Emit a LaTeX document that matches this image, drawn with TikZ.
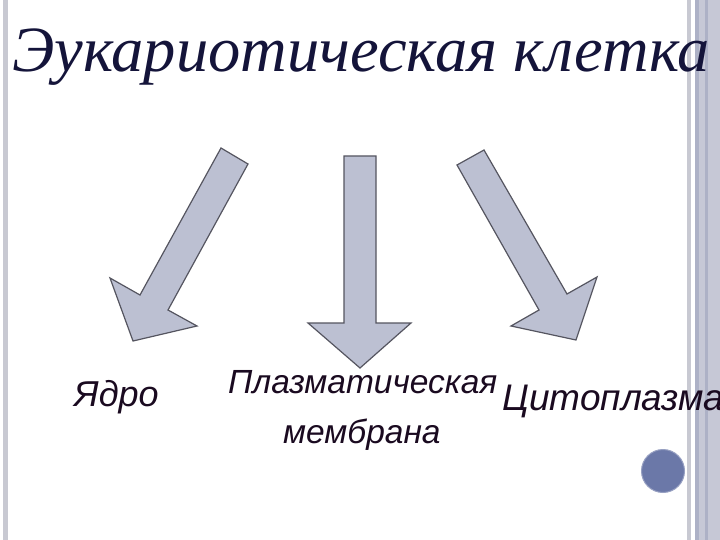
\documentclass[tikz,border=0pt]{standalone}
\usepackage{fontspec}
\setmainfont{Liberation Serif}
\newfontfamily\arialfont{Liberation Sans}
\definecolor{arrfill}{HTML}{BCC0D2}
\definecolor{arrline}{HTML}{555560}
\definecolor{titlec}{HTML}{14143A}
\definecolor{labc}{HTML}{1A0A20}
\definecolor{bandA}{HTML}{C8C9D2}
\definecolor{bandB}{HTML}{ADB1C6}
\definecolor{bandC}{HTML}{C6C8D6}
\definecolor{dotc}{HTML}{6B78A8}
\begin{document}
\begin{tikzpicture}[x=1pt,y=-1pt,
  blockarrow/.style={fill=arrfill,draw=arrline,line width=1.2pt,line join=miter},
  lab/.style={text=labc,font=\arialfont\itshape\fontsize{33.5}{38}\selectfont,inner sep=0pt,anchor=base west}]
\useasboundingbox (0,0) rectangle (720,540);
\fill[white] (0,0) rectangle (720,540);
% borders
\fill[bandA] (3,0) rectangle (8,540);
\fill[bandA] (687,0) rectangle (691,540);
\fill[bandB] (695,0) rectangle (699,540);
\fill[bandC] (699,0) rectangle (705,540);
\fill[bandB] (705,0) rectangle (708,540);
\fill[bandC] (708,0) rectangle (720,540);
% title
\node[text=titlec,font=\itshape\fontsize{64.5}{70}\selectfont,inner sep=0pt,anchor=base west] (title) at (12,72) {Эукариотическая клетка};
% arrows
\draw[blockarrow] (221,148) -- (248,164) -- (168,310) -- (197,326) -- (133,341) -- (110,278) -- (140,295) -- cycle;
\draw[blockarrow] (344,156) -- (376,156) -- (376,323) -- (411,323) -- (360,368) -- (308,323) -- (344,323) -- cycle;
\draw[blockarrow] (457,165) -- (484,150) -- (567,294) -- (597,277) -- (576,340) -- (511,326) -- (539,310) -- cycle;
% labels
\node[lab,font=\arialfont\itshape\fontsize{36}{40}\selectfont] (yadro) at (74,406) {Ядро};
\node[lab] (plazm) at (228,393) {Плазматическая};
\node[lab] (membr) at (283,443) {мембрана};
\node[lab,font=\arialfont\itshape\fontsize{37}{42}\selectfont] (cyto) at (502,410) {Цитоплазма};
% dot
\node[circle,fill=dotc,draw=dotc!70!white,line width=1pt,minimum size=43pt,inner sep=0pt] (dot) at (663,471) {};
\end{tikzpicture}
\end{document}
